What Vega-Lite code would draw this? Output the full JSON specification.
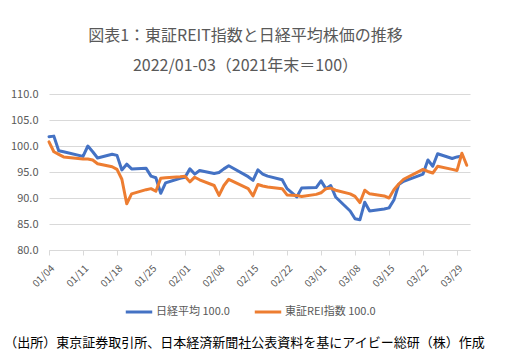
{
  "$schema": "https://vega.github.io/schema/vega-lite/v6.json",
  "autosize": {"type": "none"},
  "padding": {"left": 49, "top": 94, "right": 35, "bottom": 103},
  "width": 421,
  "height": 156,
  "background": "white",
  "config": {
    "view": {"stroke": null},
    "font": "Noto Sans CJK JP"
  },
  "title": {
    "text": "図表1：東証REIT指数と日経平均株価の推移",
    "subtitle": "2022/01-03（2021年末＝100）",
    "anchor": "middle",
    "dx": -14,
    "offset": 14,
    "font": "Noto Sans CJK JP",
    "subtitleFont": "Noto Sans CJK JP",
    "fontSize": 16,
    "subtitleFontSize": 16,
    "fontWeight": "normal",
    "color": "#595959",
    "subtitleColor": "#595959",
    "subtitlePadding": 14
  },
  "data": {
    "values": [
      {"date": "2022-01-04", "series": "日経平均 100.0", "value": 101.8},
      {"date": "2022-01-05", "series": "日経平均 100.0", "value": 101.9},
      {"date": "2022-01-06", "series": "日経平均 100.0", "value": 99.1},
      {"date": "2022-01-07", "series": "日経平均 100.0", "value": 98.9},
      {"date": "2022-01-11", "series": "日経平均 100.0", "value": 98.0},
      {"date": "2022-01-12", "series": "日経平均 100.0", "value": 100.0},
      {"date": "2022-01-13", "series": "日経平均 100.0", "value": 98.9},
      {"date": "2022-01-14", "series": "日経平均 100.0", "value": 97.7},
      {"date": "2022-01-17", "series": "日経平均 100.0", "value": 98.4},
      {"date": "2022-01-18", "series": "日経平均 100.0", "value": 98.2},
      {"date": "2022-01-19", "series": "日経平均 100.0", "value": 95.4},
      {"date": "2022-01-20", "series": "日経平均 100.0", "value": 96.5},
      {"date": "2022-01-21", "series": "日経平均 100.0", "value": 95.6},
      {"date": "2022-01-24", "series": "日経平均 100.0", "value": 95.7},
      {"date": "2022-01-25", "series": "日経平均 100.0", "value": 94.2},
      {"date": "2022-01-26", "series": "日経平均 100.0", "value": 93.9},
      {"date": "2022-01-27", "series": "日経平均 100.0", "value": 90.9},
      {"date": "2022-01-28", "series": "日経平均 100.0", "value": 92.9},
      {"date": "2022-01-31", "series": "日経平均 100.0", "value": 93.8},
      {"date": "2022-02-01", "series": "日経平均 100.0", "value": 94.0},
      {"date": "2022-02-02", "series": "日経平均 100.0", "value": 95.6},
      {"date": "2022-02-03", "series": "日経平均 100.0", "value": 94.6},
      {"date": "2022-02-04", "series": "日経平均 100.0", "value": 95.3},
      {"date": "2022-02-07", "series": "日経平均 100.0", "value": 94.7},
      {"date": "2022-02-08", "series": "日経平均 100.0", "value": 94.9},
      {"date": "2022-02-09", "series": "日経平均 100.0", "value": 95.6},
      {"date": "2022-02-10", "series": "日経平均 100.0", "value": 96.2},
      {"date": "2022-02-14", "series": "日経平均 100.0", "value": 94.1},
      {"date": "2022-02-15", "series": "日経平均 100.0", "value": 93.4},
      {"date": "2022-02-16", "series": "日経平均 100.0", "value": 95.4},
      {"date": "2022-02-17", "series": "日経平均 100.0", "value": 94.6},
      {"date": "2022-02-18", "series": "日経平均 100.0", "value": 94.2},
      {"date": "2022-02-21", "series": "日経平均 100.0", "value": 93.5},
      {"date": "2022-02-22", "series": "日経平均 100.0", "value": 91.8},
      {"date": "2022-02-24", "series": "日経平均 100.0", "value": 90.2},
      {"date": "2022-02-25", "series": "日経平均 100.0", "value": 91.9},
      {"date": "2022-02-28", "series": "日経平均 100.0", "value": 92.0},
      {"date": "2022-03-01", "series": "日経平均 100.0", "value": 93.3},
      {"date": "2022-03-02", "series": "日経平均 100.0", "value": 91.8},
      {"date": "2022-03-03", "series": "日経平均 100.0", "value": 92.4},
      {"date": "2022-03-04", "series": "日経平均 100.0", "value": 90.2},
      {"date": "2022-03-07", "series": "日経平均 100.0", "value": 87.5},
      {"date": "2022-03-08", "series": "日経平均 100.0", "value": 86.0},
      {"date": "2022-03-09", "series": "日経平均 100.0", "value": 85.8},
      {"date": "2022-03-10", "series": "日経平均 100.0", "value": 89.2},
      {"date": "2022-03-11", "series": "日経平均 100.0", "value": 87.5},
      {"date": "2022-03-14", "series": "日経平均 100.0", "value": 87.9},
      {"date": "2022-03-15", "series": "日経平均 100.0", "value": 88.1},
      {"date": "2022-03-16", "series": "日経平均 100.0", "value": 89.6},
      {"date": "2022-03-17", "series": "日経平均 100.0", "value": 92.6},
      {"date": "2022-03-18", "series": "日経平均 100.0", "value": 93.2},
      {"date": "2022-03-22", "series": "日経平均 100.0", "value": 94.6},
      {"date": "2022-03-23", "series": "日経平均 100.0", "value": 97.3},
      {"date": "2022-03-24", "series": "日経平均 100.0", "value": 96.1},
      {"date": "2022-03-25", "series": "日経平均 100.0", "value": 98.5},
      {"date": "2022-03-28", "series": "日経平均 100.0", "value": 97.6},
      {"date": "2022-03-29", "series": "日経平均 100.0", "value": 97.9},
      {"date": "2022-03-30", "series": "日経平均 100.0", "value": 98.1},
      {"date": "2022-01-04", "series": "東証REI指数 100.0", "value": 100.8},
      {"date": "2022-01-05", "series": "東証REI指数 100.0", "value": 98.9},
      {"date": "2022-01-06", "series": "東証REI指数 100.0", "value": 98.4},
      {"date": "2022-01-07", "series": "東証REI指数 100.0", "value": 97.9},
      {"date": "2022-01-11", "series": "東証REI指数 100.0", "value": 97.5},
      {"date": "2022-01-12", "series": "東証REI指数 100.0", "value": 97.5},
      {"date": "2022-01-13", "series": "東証REI指数 100.0", "value": 97.3},
      {"date": "2022-01-14", "series": "東証REI指数 100.0", "value": 96.6},
      {"date": "2022-01-17", "series": "東証REI指数 100.0", "value": 96.0},
      {"date": "2022-01-18", "series": "東証REI指数 100.0", "value": 95.5},
      {"date": "2022-01-19", "series": "東証REI指数 100.0", "value": 93.6},
      {"date": "2022-01-20", "series": "東証REI指数 100.0", "value": 88.9},
      {"date": "2022-01-21", "series": "東証REI指数 100.0", "value": 90.8},
      {"date": "2022-01-24", "series": "東証REI指数 100.0", "value": 91.6},
      {"date": "2022-01-25", "series": "東証REI指数 100.0", "value": 91.8},
      {"date": "2022-01-26", "series": "東証REI指数 100.0", "value": 91.3},
      {"date": "2022-01-27", "series": "東証REI指数 100.0", "value": 93.8},
      {"date": "2022-01-28", "series": "東証REI指数 100.0", "value": 93.9},
      {"date": "2022-01-31", "series": "東証REI指数 100.0", "value": 94.1},
      {"date": "2022-02-01", "series": "東証REI指数 100.0", "value": 94.2},
      {"date": "2022-02-02", "series": "東証REI指数 100.0", "value": 93.1},
      {"date": "2022-02-03", "series": "東証REI指数 100.0", "value": 94.0},
      {"date": "2022-02-04", "series": "東証REI指数 100.0", "value": 93.5},
      {"date": "2022-02-07", "series": "東証REI指数 100.0", "value": 92.4},
      {"date": "2022-02-08", "series": "東証REI指数 100.0", "value": 90.5},
      {"date": "2022-02-09", "series": "東証REI指数 100.0", "value": 92.4},
      {"date": "2022-02-10", "series": "東証REI指数 100.0", "value": 93.6},
      {"date": "2022-02-14", "series": "東証REI指数 100.0", "value": 91.8},
      {"date": "2022-02-15", "series": "東証REI指数 100.0", "value": 90.4},
      {"date": "2022-02-16", "series": "東証REI指数 100.0", "value": 92.6},
      {"date": "2022-02-17", "series": "東証REI指数 100.0", "value": 92.3},
      {"date": "2022-02-18", "series": "東証REI指数 100.0", "value": 92.1},
      {"date": "2022-02-21", "series": "東証REI指数 100.0", "value": 91.8},
      {"date": "2022-02-22", "series": "東証REI指数 100.0", "value": 90.6},
      {"date": "2022-02-24", "series": "東証REI指数 100.0", "value": 90.5},
      {"date": "2022-02-25", "series": "東証REI指数 100.0", "value": 90.3},
      {"date": "2022-02-28", "series": "東証REI指数 100.0", "value": 90.7},
      {"date": "2022-03-01", "series": "東証REI指数 100.0", "value": 91.0},
      {"date": "2022-03-02", "series": "東証REI指数 100.0", "value": 91.8},
      {"date": "2022-03-03", "series": "東証REI指数 100.0", "value": 91.9},
      {"date": "2022-03-04", "series": "東証REI指数 100.0", "value": 91.5},
      {"date": "2022-03-07", "series": "東証REI指数 100.0", "value": 90.8},
      {"date": "2022-03-08", "series": "東証REI指数 100.0", "value": 90.3},
      {"date": "2022-03-09", "series": "東証REI指数 100.0", "value": 89.1},
      {"date": "2022-03-10", "series": "東証REI指数 100.0", "value": 91.5},
      {"date": "2022-03-11", "series": "東証REI指数 100.0", "value": 90.8},
      {"date": "2022-03-14", "series": "東証REI指数 100.0", "value": 90.4},
      {"date": "2022-03-15", "series": "東証REI指数 100.0", "value": 90.0},
      {"date": "2022-03-16", "series": "東証REI指数 100.0", "value": 91.6},
      {"date": "2022-03-17", "series": "東証REI指数 100.0", "value": 92.7},
      {"date": "2022-03-18", "series": "東証REI指数 100.0", "value": 93.6},
      {"date": "2022-03-22", "series": "東証REI指数 100.0", "value": 95.5},
      {"date": "2022-03-23", "series": "東証REI指数 100.0", "value": 95.1},
      {"date": "2022-03-24", "series": "東証REI指数 100.0", "value": 94.8},
      {"date": "2022-03-25", "series": "東証REI指数 100.0", "value": 96.1},
      {"date": "2022-03-28", "series": "東証REI指数 100.0", "value": 95.5},
      {"date": "2022-03-29", "series": "東証REI指数 100.0", "value": 95.3},
      {"date": "2022-03-30", "series": "東証REI指数 100.0", "value": 98.6},
      {"date": "2022-03-31", "series": "東証REI指数 100.0", "value": 96.3}
    ]
  },
  "mark": {"type": "line", "strokeWidth": 3, "strokeJoin": "round", "strokeCap": "round"},
  "encoding": {
    "x": {
      "field": "date",
      "type": "temporal",
      "scale": {
        "type": "utc",
        "domain": [
          {"year": 2022, "month": 1, "date": 4, "utc": true},
          {"year": 2022, "month": 3, "date": 31, "hours": 16, "utc": true}
        ]
      },
      "axis": {
        "values": [
          {"year": 2022, "month": 1, "date": 4, "utc": true},
          {"year": 2022, "month": 1, "date": 11, "utc": true},
          {"year": 2022, "month": 1, "date": 18, "utc": true},
          {"year": 2022, "month": 1, "date": 25, "utc": true},
          {"year": 2022, "month": 2, "date": 1, "utc": true},
          {"year": 2022, "month": 2, "date": 8, "utc": true},
          {"year": 2022, "month": 2, "date": 15, "utc": true},
          {"year": 2022, "month": 2, "date": 22, "utc": true},
          {"year": 2022, "month": 3, "date": 1, "utc": true},
          {"year": 2022, "month": 3, "date": 8, "utc": true},
          {"year": 2022, "month": 3, "date": 15, "utc": true},
          {"year": 2022, "month": 3, "date": 22, "utc": true},
          {"year": 2022, "month": 3, "date": 29, "utc": true}
        ],
        "format": "%m/%d",
        "labelAngle": -45,
        "labelFontSize": 10,
        "labelColor": "#595959",
        "labelFont": "Noto Sans CJK JP",
        "labelPadding": 8,
        "labelFlush": false,
        "labelOverlap": false,
        "grid": false,
        "domainColor": "#d9d9d9",
        "domainWidth": 1,
        "tickColor": "#d9d9d9",
        "tickSize": 5,
        "title": "（出所）東京証券取引所、日本経済新聞社公表資料を基にアイビー総研（株）作成",
        "titleFont": "Noto Sans CJK JP",
        "titleFontSize": 13,
        "titleFontWeight": "normal",
        "titleColor": "#000000",
        "titleX": 195,
        "titleY": 92,
        "titleAlign": "center",
        "titleBaseline": "middle"
      }
    },
    "y": {
      "field": "value",
      "type": "quantitative",
      "scale": {"domain": [80, 110], "zero": false, "nice": false},
      "axis": {
        "values": [80, 85, 90, 95, 100, 105, 110],
        "format": ".1f",
        "labelFontSize": 11,
        "labelColor": "#595959",
        "labelFont": "Noto Sans CJK JP",
        "labelPadding": 11,
        "ticks": false,
        "domain": false,
        "gridColor": "#d9d9d9",
        "gridWidth": 1,
        "title": null
      }
    },
    "color": {
      "field": "series",
      "type": "nominal",
      "scale": {
        "domain": ["日経平均 100.0", "東証REI指数 100.0"],
        "range": ["#4472C4", "#ED7D31"]
      },
      "legend": {
        "title": null,
        "orient": "none",
        "direction": "horizontal",
        "legendX": 75,
        "legendY": 203,
        "symbolType": "stroke",
        "symbolSize": 700,
        "symbolStrokeWidth": 3,
        "labelFontSize": 11,
        "labelColor": "#595959",
        "labelFont": "Noto Sans CJK JP",
        "labelOffset": 2,
        "columnPadding": 18
      }
    }
  }
}
